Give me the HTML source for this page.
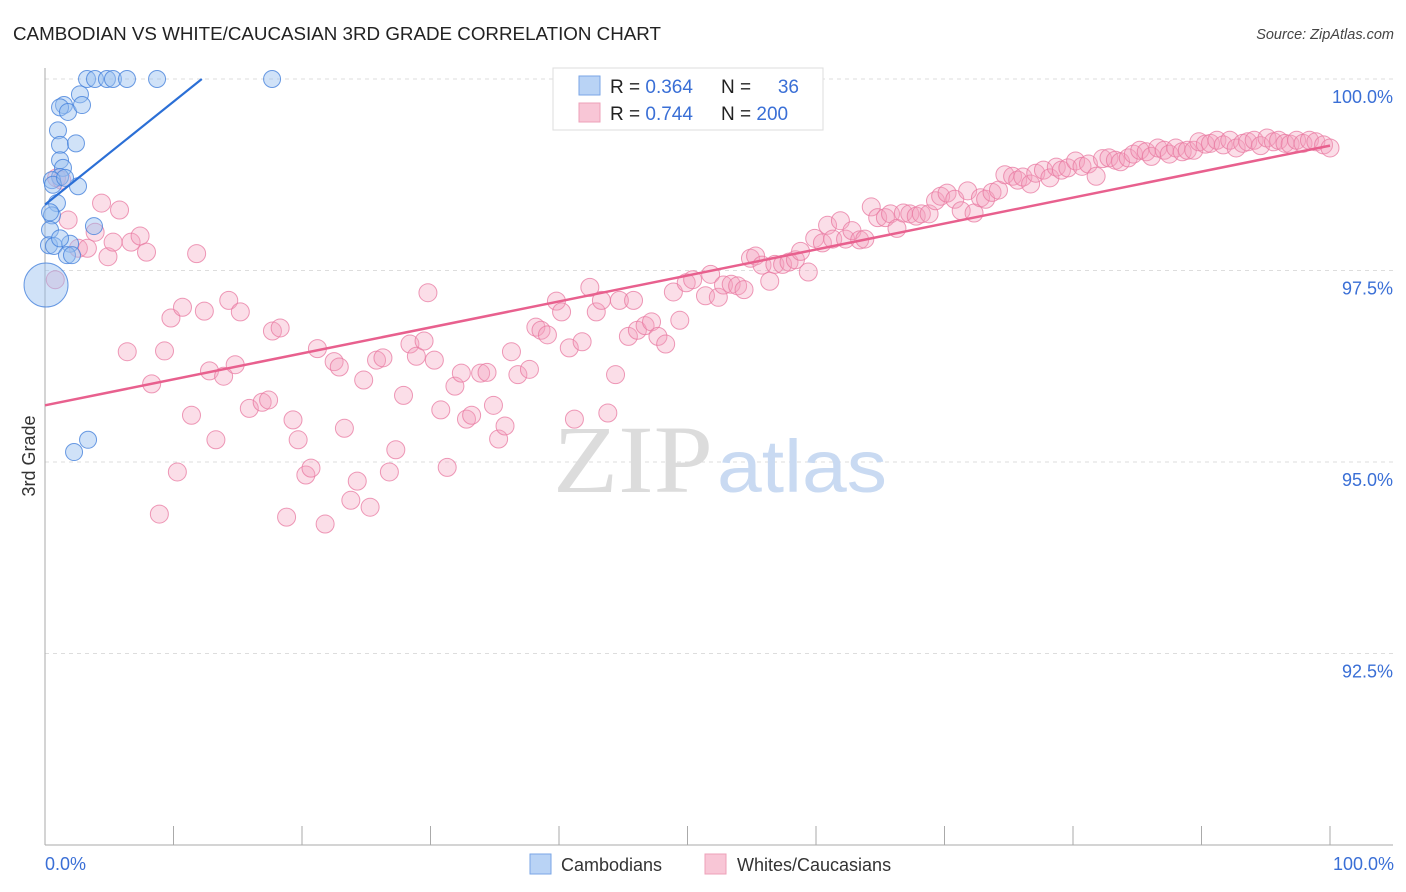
<!DOCTYPE html>
<html><head><meta charset="utf-8"><style>
body{margin:0;background:#fff;}
svg{display:block;font-family:"Liberation Sans",sans-serif;}
</style></head><body>
<svg id="chart" width="1406" height="892">
<text x="13" y="40" font-size="18" fill="#222" textLength="648" lengthAdjust="spacingAndGlyphs">CAMBODIAN VS WHITE/CAUCASIAN 3RD GRADE CORRELATION CHART</text>
<text x="1394" y="39" font-size="14.5" fill="#444" font-style="italic" text-anchor="end">Source: ZipAtlas.com</text>
<g id="grid"></g>
<g>
<text x="553" y="492" font-size="96" font-family="Liberation Serif,serif" fill="#dcdcdc" textLength="160" lengthAdjust="spacingAndGlyphs">ZIP</text>
<text x="717" y="492" font-size="74" fill="#c9daf2" textLength="170" lengthAdjust="spacingAndGlyphs">atlas</text>
</g>
<g id="axes"></g>
<g id="pts"></g>
<g id="lines"></g>
<text x="35" y="456" font-size="18" fill="#333" text-anchor="middle" transform="rotate(-90 35 456)">3rd Grade</text>
<text x="45" y="870" font-size="18" fill="#3a6fd6">0.0%</text>
<text x="1394" y="870" font-size="18" fill="#3a6fd6" text-anchor="end">100.0%</text>
<g>
<rect x="553" y="68" width="270" height="62" fill="#fff" stroke="#ddd"/>
<rect x="579" y="76" width="21" height="19" fill="#b9d3f5" stroke="#7aa6e6"/>
<rect x="579" y="103" width="21" height="19" fill="#f8c6d6" stroke="#eea0b8"/>
<text x="610" y="93" font-size="19" fill="#222">R = <tspan fill="#3a6fd6">0.364</tspan></text>
<text x="721" y="93" font-size="19" fill="#222">N =</text>
<text x="799" y="93" font-size="19" fill="#3a6fd6" text-anchor="end">36</text>
<text x="610" y="120" font-size="19" fill="#222">R = <tspan fill="#3a6fd6">0.744</tspan></text>
<text x="721" y="120" font-size="19" fill="#222">N = <tspan fill="#3a6fd6">200</tspan></text>
</g>
<g>
<rect x="530" y="854" width="21" height="20" fill="#b9d3f5" stroke="#7aa6e6"/>
<text x="561" y="871" font-size="18" fill="#333">Cambodians</text>
<rect x="705" y="854" width="21" height="20" fill="#f8c6d6" stroke="#eea0b8"/>
<text x="737" y="871" font-size="18" fill="#333">Whites/Caucasians</text>
</g>
</svg>
<script>
const yTicks=[100,97.5,95,92.5];
const yTickLabels=["100.0%","97.5%","95.0%","92.5%"];
const xTicks=[0,10,20,30,40,50,60,70,80,90,100];
const blueX=[3.27,3.89,4.82,5.29,6.38,8.72,17.67,2.72,1.48,1.17,1.79,2.88,1.01,1.17,2.41,1.17,1.40,1.17,0.54,0.62,2.57,0.93,0.54,3.81,0.39,0.31,0.70,1.95,1.71,2.10,0.08,3.35,2.26,0.39,1.56,1.17];
const blueY=[100,100,100,100,100,100,100,99.80,99.66,99.63,99.57,99.66,99.33,99.14,99.16,98.94,98.84,98.72,98.68,98.62,98.60,98.38,98.22,98.08,98.03,97.83,97.82,97.85,97.70,97.70,97.31,95.29,95.13,98.26,98.71,97.92];
const pinkX=[0.8,1.8,2.6,3.3,3.9,4.4,4.9,5.3,5.8,6.7,7.4,7.9,0.9,1.3,6.4,8.3,8.9,9.3,9.8,10.3,10.7,11.4,11.8,12.4,12.8,13.3,13.9,14.3,14.8,15.2,15.9,16.9,17.4,17.7,18.3,18.8,19.3,19.7,20.3,20.7,21.2,21.8,22.5,22.9,23.3,23.8,24.3,24.8,25.3,25.8,26.3,26.8,27.3,27.9,28.4,28.9,29.5,29.8,30.3,30.8,31.3,31.9,32.4,32.8,33.2,33.9,34.4,34.9,35.3,35.8,36.3,36.8,37.7,38.2,38.6,39.1,39.8,40.2,40.8,41.2,41.8,42.4,42.9,43.3,43.8,44.4,44.7,45.4,45.8,46.1,46.7,47.2,47.7,48.3,48.9,49.4,49.9,50.4,51.4,51.8,52.4,52.8,53.4,53.9,54.4,54.9,55.3,55.8,56.4,56.8,57.4,57.9,58.4,58.8,59.4,59.9,60.5,60.9,61.3,61.9,62.3,62.8,63.4,63.8,64.3,64.8,65.4,65.8,66.3,66.8,67.3,67.8,68.2,68.8,69.3,69.7,70.2,70.8,71.3,71.8,72.3,72.8,73.2,73.7,74.2,74.7,75.3,75.7,76.1,76.7,77.1,77.7,78.2,78.7,79.1,79.6,80.2,80.7,81.2,81.8,82.3,82.8,83.3,83.7,84.3,84.7,85.2,85.7,86.1,86.6,87.1,87.5,88.0,88.5,88.9,89.4,89.8,90.3,90.7,91.2,91.7,92.2,92.7,93.2,93.6,94.1,94.6,95.1,95.6,96.0,96.5,96.9,97.4,97.9,98.4,98.9,99.5,100];
const pinkY=[97.38,98.16,97.79,97.79,98.00,98.38,97.68,97.87,98.29,97.87,97.95,97.74,98.71,98.68,96.44,96.02,94.32,96.45,96.88,94.87,97.02,95.61,97.72,96.97,96.19,95.29,96.12,97.11,96.27,96.96,95.70,95.78,95.81,96.71,96.75,94.28,95.55,95.29,94.83,94.92,96.48,94.19,96.31,96.24,95.44,94.50,94.75,96.07,94.41,96.33,96.36,94.87,95.16,95.87,96.54,96.38,96.58,97.21,96.33,95.68,94.93,95.99,96.16,95.56,95.61,96.16,96.17,95.74,95.30,95.47,96.44,96.14,96.21,96.76,96.72,96.66,97.10,96.96,96.49,95.56,96.57,97.28,96.96,97.11,95.64,96.14,97.11,96.64,97.11,96.72,96.78,96.83,96.64,96.54,97.22,96.85,97.34,97.38,97.17,97.45,97.15,97.31,97.32,97.30,97.25,97.66,97.69,97.57,97.36,97.58,97.58,97.61,97.64,97.75,97.48,97.92,97.86,98.09,97.91,98.15,97.91,98.02,97.90,97.91,98.33,98.19,98.19,98.24,98.05,98.25,98.24,98.21,98.24,98.24,98.41,98.47,98.51,98.43,98.28,98.54,98.25,98.45,98.43,98.52,98.55,98.75,98.73,98.68,98.72,98.63,98.77,98.81,98.71,98.85,98.81,98.84,98.93,98.86,98.89,98.73,98.96,98.97,98.94,98.92,98.97,99.02,99.07,99.05,98.99,99.10,99.07,99.02,99.10,99.05,99.07,99.07,99.18,99.15,99.16,99.20,99.14,99.20,99.10,99.16,99.18,99.20,99.13,99.23,99.18,99.20,99.16,99.15,99.20,99.16,99.20,99.18,99.14,99.10];
const blueLine=[98.36,111.8];   // y at x=0, y at x=100
const pinkLine=[95.74,99.13];

const NS="http://www.w3.org/2000/svg";
const X0=45,X1=1330,Y100=79,PXPER=76.6;
const sx=v=>X0+(v/100)*(X1-X0);
const sy=v=>Y100+(100-v)*PXPER;
function mk(tag,attrs,parent){const e=document.createElementNS(NS,tag);for(const k in attrs)e.setAttribute(k,attrs[k]);parent.appendChild(e);return e;}
const grid=document.getElementById('grid'),axes=document.getElementById('axes'),pts=document.getElementById('pts'),lines=document.getElementById('lines');
yTicks.forEach((t,i)=>{
  const l=mk('line',{x1:45,x2:1393,y1:sy(t),y2:sy(t),stroke:'#ddd','stroke-dasharray':'4 4'},grid);
  
  
  const tx=mk('text',{x:1393,y:sy(t)+24,'font-size':18,fill:'#3a6fd6','text-anchor':'end'},grid);
  tx.textContent=yTickLabels[i];
  
  
});
mk('line',{x1:45,x2:45,y1:68,y2:845,stroke:'#aaa'},axes);
mk('line',{x1:45,x2:1393,y1:845,y2:845,stroke:'#aaa'},axes);
xTicks.forEach(t=>{
  const l=mk('line',{x1:sx(t),x2:sx(t),y1:826,y2:845,stroke:'#aaa'},axes);
  
  
});
pinkX.forEach((x,i)=>{
  const c=mk('circle',{cx:sx(x),cy:sy(pinkY[i]),r:9,fill:'rgba(244,160,188,0.35)',stroke:'rgba(232,120,160,0.75)','stroke-width':1},pts);
  
  
});
blueX.forEach((x,i)=>{
  const c=mk('circle',{cx:sx(x),cy:sy(blueY[i]),r:(i===30?22:8.5),fill:'rgba(150,190,240,0.45)',stroke:'rgba(70,130,220,0.8)','stroke-width':1},pts);
  
  
});
const pl=mk('line',{x1:sx(0),y1:sy(pinkLine[0]),x2:sx(100),y2:sy(pinkLine[1]),stroke:'#e8608e','stroke-width':2.5},lines);


const xe=(100-blueLine[0])/((blueLine[1]-blueLine[0])/100);
const bl=mk('line',{x1:sx(0),y1:sy(blueLine[0]),x2:sx(xe),y2:sy(100),stroke:'#2b6fd6','stroke-width':2.2},lines);


</script>
</body></html>
